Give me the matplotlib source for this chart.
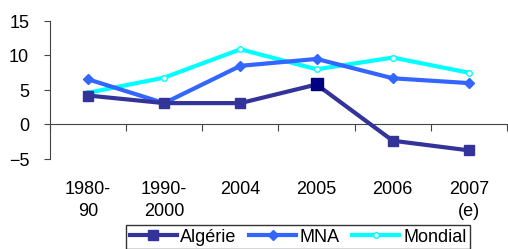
import numpy as np
import matplotlib.pyplot as plt

plt.rcParams['font.family'] = ['Liberation Sans', 'DejaVu Sans']

categories = ['1980-\n90', '1990-\n2000', '2004', '2005', '2006', '2007\n(e)']
algerie = [4.2, 3.1, 3.1, 5.8, -2.35, -3.75]
mna = [6.55, 3.1, 8.5, 9.5, 6.7, 6.0]
mondial = [4.6, 6.8, 10.9, 8.0, 9.7, 7.5]

fig = plt.figure(figsize=(5.08, 2.49), dpi=100)
ax = fig.add_axes([50/508, 90/249, 457/508, 138/249])

x = np.arange(len(categories))
ax.plot(x, algerie, color='#333399', lw=3, marker='s', ms=7, label='Algérie', zorder=3)
# highlighted 2005 point
ax.plot(x[3], algerie[3], marker='s', ms=9, color='#000080', zorder=4)
ax.plot(x, mna, color='#3366FF', lw=3, marker='D', ms=5.5, label='MNA', zorder=2)
ax.plot(x, mondial, color='#00FFFF', lw=3, marker='o', ms=4, mfc='white', mec='#00FFFF',
        mew=1, label='Mondial', zorder=1)

ax.set_xlim(-0.5, 5.5)
ax.set_ylim(-5, 15)
ax.set_yticks([-5, 0, 5, 10, 15])
ax.tick_params(axis='y', direction='out', length=4, labelsize=13, pad=11, color='#444444')

ax.spines['top'].set_visible(False)
ax.spines['right'].set_visible(False)
ax.spines['bottom'].set_position(('data', 0))
ax.spines['left'].set_color('#444444')
ax.spines['bottom'].set_color('#444444')
ax.set_xticks(np.arange(-0.5, 6, 1))
ax.set_xticklabels([])
ax.tick_params(axis='x', direction='out', length=5, color='#444444')

for i, c in enumerate(categories):
    ax.text(i, -0.16, c, transform=ax.get_xaxis_transform(), ha='center', va='top',
            fontsize=13, linespacing=1.35)

fig.legend(loc='upper center', bbox_to_anchor=(298/508, 1 - 225/249), ncol=3,
           fontsize=13, frameon=True, fancybox=False, edgecolor='black',
           handlelength=2.6, handletextpad=0.2, columnspacing=0.7, borderpad=0.2,
           borderaxespad=0)

fig.savefig('out.png', dpi=100)
